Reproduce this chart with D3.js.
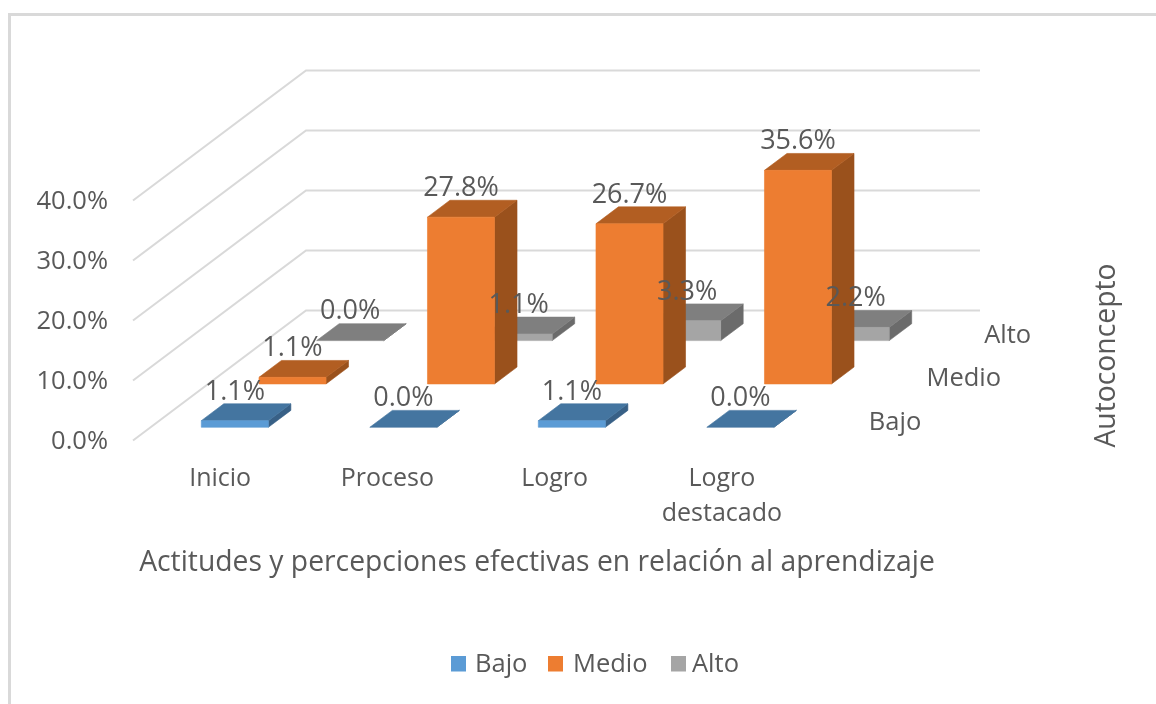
<!DOCTYPE html>
<html><head><meta charset="utf-8">
<script src="https://cdn.jsdelivr.net/npm/d3@7"></script>
<style>html,body{margin:0;padding:0;background:#fff}svg{display:block;filter:blur(0.4px)}
text{font-family:"Open Sans",sans-serif;fill:#595959}</style></head>
<body><svg id="c" width="1156" height="704"></svg>
<script>
const categories = ["Inicio","Proceso","Logro","Logro destacado"];
const seriesNames = ["Bajo","Medio","Alto"];
const bajo = [1.1,0.0,1.1,0.0];
const medio = [1.1,27.8,26.7,35.6];
const alto = [0.0,1.1,3.3,2.2];
const yTicks = [0,10,20,30,40];
const values = {Bajo:bajo,Medio:medio,Alto:alto};
const colors = {
  Bajo:{front:"#5b9bd5",top:"#4475a0",side:"#386086"},
  Medio:{front:"#ed7d31",top:"#b25e22",side:"#9a511c"},
  Alto:{front:"#a5a5a5",top:"#7f7f7f",side:"#6b6b6b"}
};
const svg = d3.select("#c");
const FS = 25, FL = 27, FT = 28.3;
const depthX = 173, depthY = 130;
const x = d3.scaleBand().domain(categories).range([133,807]).paddingInner(0.602).paddingOuter(0.301);
const y = d3.scaleLinear().domain([0,40]).range([440.5,200.5]);
const z = d3.scaleBand().domain(seriesNames).range([0,1]).paddingInner(0.61).paddingOuter(0.305);
const P = (px,v,d)=>[px+d*depthX, y(v)-d*depthY];
const line = d3.line();

// frame
svg.append("path").attr("d","M9.5,704V14.5H1156").attr("fill","none").attr("stroke","#d9d9d9").attr("stroke-width",3);

// gridlines
svg.append("g").selectAll("path").data(yTicks).join("path")
  .attr("d",t=>line([P(133,t,0),P(133,t,1),P(807,t,1)]))
  .attr("fill","none").attr("stroke","#d9d9d9").attr("stroke-width",2);

// bars back to front
const face = (g,pts,col)=>g.append("path").attr("d",line(pts)+"Z").attr("fill",col).attr("stroke",col).attr("stroke-width",0.6);
[...seriesNames].reverse().forEach(s=>{
  const g = svg.append("g");
  const c = colors[s], d0=z(s), d1=z(s)+z.bandwidth();
  categories.forEach((cat,i)=>{
    const v = values[s][i], x0=x(cat), x1=x0+x.bandwidth();
    const bar = g.append("g");
    face(bar,[P(x1,0,d0),P(x1,0,d1),P(x1,v,d1),P(x1,v,d0)],c.side);
    face(bar,[P(x0,v,d0),P(x1,v,d0),P(x1,v,d1),P(x0,v,d1)],c.top);
    if(v>0) face(bar,[P(x0,0,d0),P(x1,0,d0),P(x1,v,d0),P(x0,v,d0)],c.front);
  });
});

// data labels
seriesNames.forEach(s=>{
  const d1=z(s)+z.bandwidth(), d0=z(s);
  categories.forEach((cat,i)=>{
    const v=values[s][i];
    const cx=x(cat)+x.bandwidth()/2;
    const p=P(cx,v,d1), f=P(cx,v,d0);
    svg.append("text").attr("x",f[0]).attr("y",p[1]-14).attr("dy","0.36em")
      .attr("text-anchor","middle").attr("font-size",FL).text(v.toFixed(1)+"%");
  });
});

// value axis
const axY = svg.append("g").attr("transform","translate(108,0)")
  .call(d3.axisLeft(y).tickValues(yTicks).tickSize(0).tickPadding(0).tickFormat(t=>t.toFixed(1)+"%"));
axY.select(".domain").remove();
axY.selectAll("text").attr("font-size",25.5).attr("font-family",'"Open Sans",sans-serif');

// category axis
const axX = svg.append("g").attr("transform","translate(0,477)")
  .call(d3.axisBottom(d3.scaleBand().domain(categories).range([136.5,805.5])).tickSize(0).tickPadding(0));
axX.select(".domain").remove();
axX.selectAll("text").attr("font-size",FS).attr("font-family",'"Open Sans",sans-serif').each(function(t){
  const el=d3.select(this), words=t.split(" ");
  el.text(null).attr("y",0).attr("dy",null);
  words.forEach((w,i)=>el.append("tspan").attr("x",0).attr("y",i*35).attr("dy","0.36em").text(w));
});

// depth axis labels
seriesNames.forEach(s=>{
  const d=z(s)+z.bandwidth()/2;
  const p=P(807,0,d);
  svg.append("text").attr("x",p[0]+33).attr("y",p[1]+1.5).attr("dy","0.36em").attr("font-size",25.5).text(s);
});

// titles
svg.append("text").attr("x",537).attr("y",561).attr("dy","0.36em").attr("text-anchor","middle").attr("font-size",FT).text("Actitudes y percepciones efectivas en relación al aprendizaje");
svg.append("text").attr("transform","translate(1104.5,355.5) rotate(-90)").attr("dy","0.36em").attr("text-anchor","middle").attr("font-size",FT).text("Autoconcepto");

// legend
const legendX = {Bajo:451,Medio:548,Alto:671};
const legendTextX = {Bajo:475,Medio:573,Alto:692};
seriesNames.forEach(s=>{
  svg.append("rect").attr("x",legendX[s]).attr("y",656).attr("width",15).attr("height",15.5).attr("fill",colors[s].front);
  svg.append("text").attr("x",legendTextX[s]).attr("y",663).attr("dy","0.36em").attr("font-size",25.5).text(s);
});
</script></body></html>
